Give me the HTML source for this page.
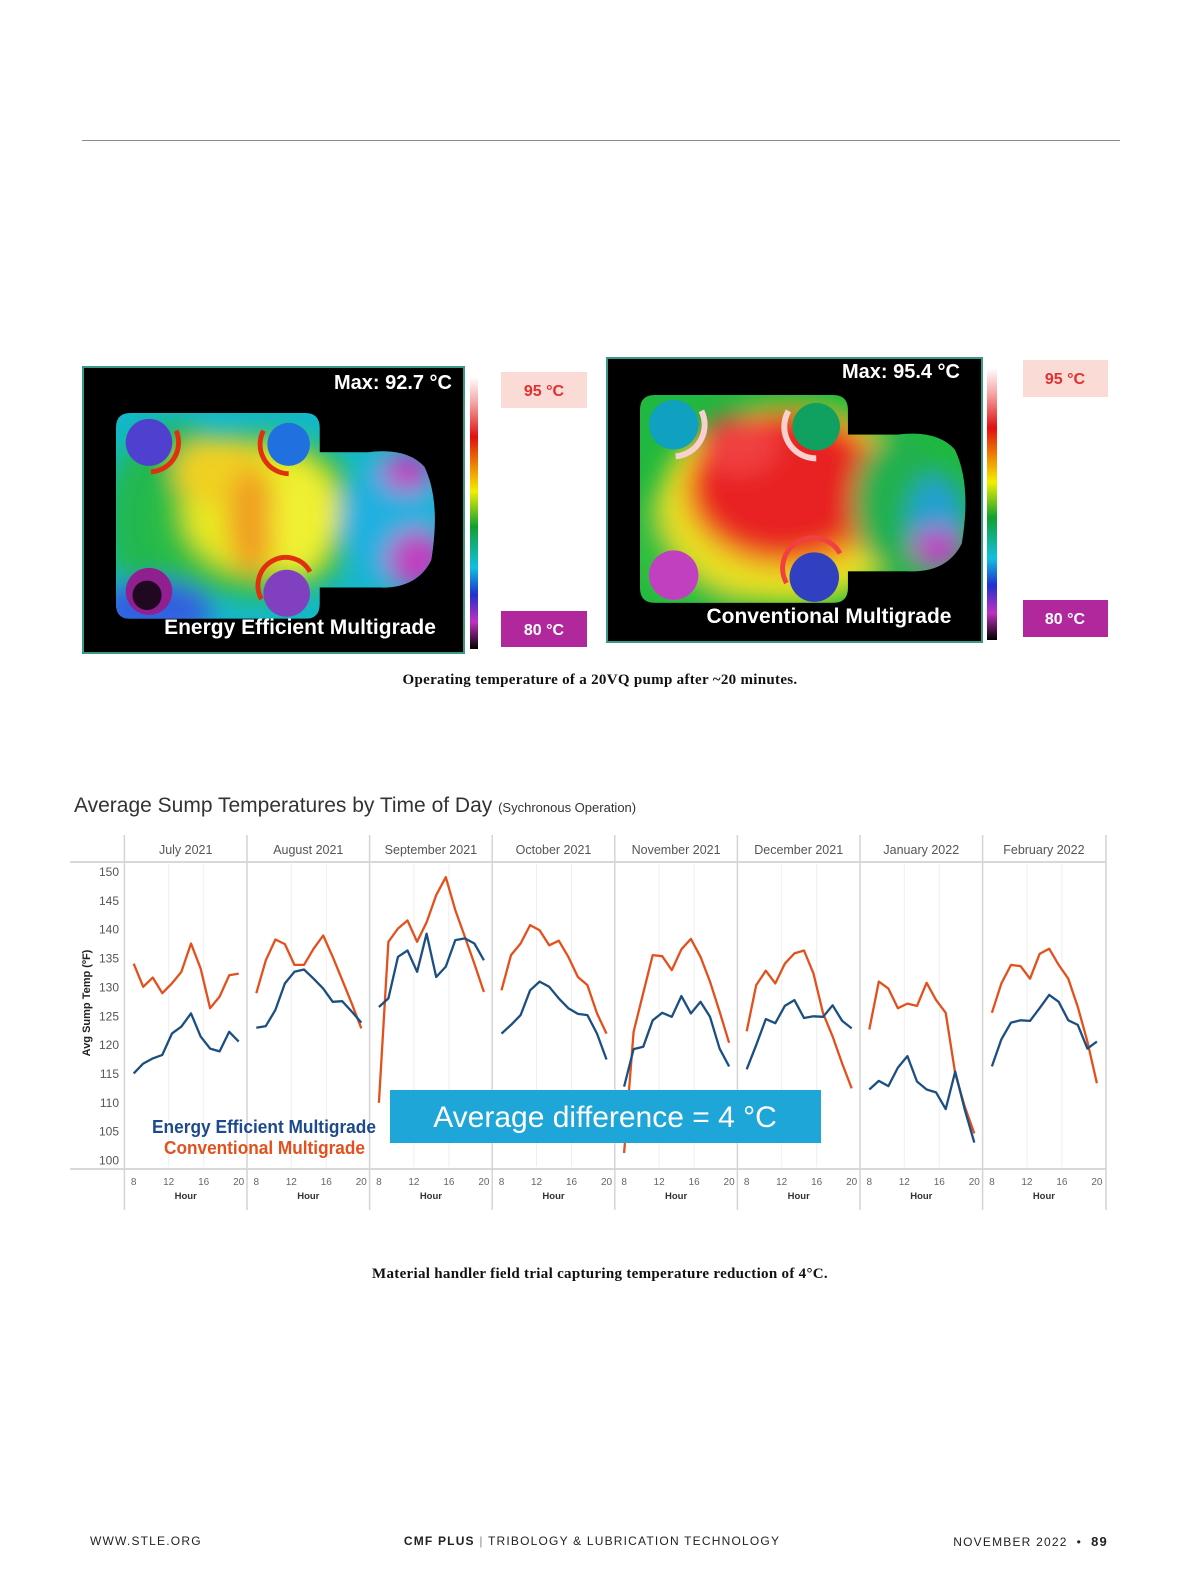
<!DOCTYPE html>
<html><head><meta charset="utf-8">
<style>
body{margin:0;background:#fff;}
#page{position:relative;width:1200px;height:1588px;overflow:hidden;background:#fff;font-family:"Liberation Sans",sans-serif;}
.abs{position:absolute;}
.cap{position:absolute;left:0;width:1200px;text-align:center;font-family:"Liberation Serif",serif;font-weight:bold;font-size:15px;color:#111;letter-spacing:0.3px;}
.foot{position:absolute;top:1534px;font-size:12px;letter-spacing:1.2px;color:#222;}
</style></head>
<body>
<div id="page">
<div class="abs" style="left:82px;top:140px;width:1038px;height:1px;background:#8a8a8a"></div>

<svg class="abs" style="left:0;top:0" width="1200" height="700">
<defs>
<filter id="bl" x="-30%" y="-30%" width="160%" height="160%"><feGaussianBlur stdDeviation="12"/></filter>
<clipPath id="pumpclip"><path d="M15,0 H195 Q210,0 210,15 V40 H260 Q300,35 318,55 Q335,90 325,150 Q310,180 270,178 H210 V195 Q210,210 195,210 H15 Q0,210 0,195 V15 Q0,0 15,0Z"/></clipPath>
<linearGradient id="cbar" x1="0" y1="0" x2="0" y2="1">
<stop offset="0" stop-color="#fff"/><stop offset="0.1" stop-color="#f4a0a0"/><stop offset="0.22" stop-color="#e01010"/><stop offset="0.35" stop-color="#f0a000"/><stop offset="0.42" stop-color="#f0f000"/><stop offset="0.55" stop-color="#10a030"/><stop offset="0.7" stop-color="#10c0e0"/><stop offset="0.8" stop-color="#2030d0"/><stop offset="0.9" stop-color="#c030c0"/><stop offset="1" stop-color="#000"/></linearGradient>
</defs>
<g>
<rect x="83" y="367" width="381" height="286" fill="#000" stroke="#3a9a8a" stroke-width="2"/>
<g transform="translate(116,413) scale(0.97,0.98)" clip-path="url(#pumpclip)">
<rect x="0" y="0" width="340" height="220" fill="#14b8c8"/>
<g filter="url(#bl)">
<ellipse cx="60" cy="110" rx="70" ry="100" fill="#20b850"/>
<ellipse cx="150" cy="105" rx="110" ry="85" fill="#30c040"/>
<ellipse cx="150" cy="100" rx="80" ry="65" fill="#e8e820"/>
<ellipse cx="105" cy="60" rx="45" ry="35" fill="#f0d020"/>
<ellipse cx="140" cy="110" rx="25" ry="55" fill="#f0a020"/>
<ellipse cx="190" cy="110" rx="30" ry="55" fill="#f0f030"/>
<ellipse cx="280" cy="110" rx="50" ry="65" fill="#20b0e0"/>
<ellipse cx="310" cy="150" rx="30" ry="30" fill="#c040c0"/>
<ellipse cx="300" cy="60" rx="25" ry="20" fill="#c040c0"/>
<ellipse cx="40" cy="200" rx="60" ry="30" fill="#3060e0"/>
</g>
<circle cx="34" cy="30" r="24" fill="#5040d0"/>
<circle cx="178" cy="32" r="22" fill="#2070e0"/>
<circle cx="34" cy="182" r="24" fill="#902090"/>
<circle cx="32" cy="186" r="15" fill="#200820"/>
<circle cx="176" cy="184" r="24" fill="#8040c0"/>
<path d="M62,18 A30,30 0 0 1 36,60" stroke="#e03010" stroke-width="5" fill="none"/>
<path d="M152,18 A30,30 0 0 0 178,62" stroke="#e03010" stroke-width="5" fill="none"/>
<path d="M150,190 A28,28 0 0 1 200,162" stroke="#e03010" stroke-width="5" fill="none"/>
</g>
<text x="452" y="389" text-anchor="end" font-size="20" font-weight="bold" fill="#fff">Max: 92.7 °C</text>
<text x="300" y="634" text-anchor="middle" font-size="21" font-weight="bold" fill="#fff">Energy Efficient Multigrade</text>
<rect x="470" y="377" width="8" height="272" fill="url(#cbar)"/>
<rect x="501" y="372" width="86" height="36" fill="#fadbd6"/>
<text x="544" y="396" text-anchor="middle" font-size="16" font-weight="bold" fill="#e03030">95 °C</text>
<rect x="501" y="611" width="86" height="36" fill="#b0289c"/>
<text x="544" y="635" text-anchor="middle" font-size="16" font-weight="bold" fill="#fff">80 °C</text>
</g>
<g>
<rect x="607" y="358" width="375" height="284" fill="#000" stroke="#3a9a8a" stroke-width="2"/>
<g transform="translate(640,395) scale(0.99,0.99)" clip-path="url(#pumpclip)">
<rect x="0" y="0" width="340" height="220" fill="#20b840"/>
<g filter="url(#bl)">
<ellipse cx="70" cy="150" rx="80" ry="70" fill="#30c040"/>
<ellipse cx="150" cy="110" rx="130" ry="100" fill="#e8e020"/>
<ellipse cx="150" cy="95" rx="105" ry="80" fill="#f08020"/>
<ellipse cx="145" cy="90" rx="90" ry="70" fill="#e82020"/>
<ellipse cx="100" cy="50" rx="40" ry="30" fill="#f04040"/>
<ellipse cx="260" cy="110" rx="45" ry="70" fill="#20b050"/>
<ellipse cx="300" cy="130" rx="30" ry="50" fill="#20a0d0"/>
<ellipse cx="300" cy="155" rx="25" ry="20" fill="#c040c0"/>
</g>
<circle cx="34" cy="30" r="25" fill="#10a0c0"/>
<circle cx="178" cy="32" r="24" fill="#10a060"/>
<circle cx="34" cy="182" r="25" fill="#c040c0"/>
<circle cx="176" cy="184" r="25" fill="#3040c0"/>
<path d="M62,16 A32,32 0 0 1 36,62" stroke="#f8d0d0" stroke-width="6" fill="none"/>
<path d="M150,16 A32,32 0 0 0 178,64" stroke="#f8d0d0" stroke-width="6" fill="none"/>
<path d="M148,190 A30,30 0 0 1 202,160" stroke="#f04040" stroke-width="5" fill="none"/>
</g>
<text x="960" y="378" text-anchor="end" font-size="20" font-weight="bold" fill="#fff">Max: 95.4 °C</text>
<text x="829" y="623" text-anchor="middle" font-size="21" font-weight="bold" fill="#fff">Conventional Multigrade</text>
<rect x="987" y="368" width="10" height="272" fill="url(#cbar)"/>
<rect x="1023" y="360" width="85" height="37" fill="#fadbd6"/>
<text x="1065" y="384" text-anchor="middle" font-size="16" font-weight="bold" fill="#e03030">95 °C</text>
<rect x="1023" y="600" width="85" height="37" fill="#b0289c"/>
<text x="1065" y="624" text-anchor="middle" font-size="16" font-weight="bold" fill="#fff">80 °C</text>
</g>
</svg>
<div class="cap" style="top:672px">Operating temperature of a 20VQ pump after ~20 minutes.</div>

<div class="abs" style="left:74px;top:794px;font-size:21px;color:#333;white-space:nowrap">Average Sump Temperatures by Time of Day <span style="font-size:13px">(Sychronous Operation)</span></div>

<svg id="chart" class="abs" style="left:0;top:0" width="1200" height="1588"></svg>

<div class="cap" style="top:1266px">Material handler field trial capturing temperature reduction of 4°C.</div>

<div class="foot" style="left:90px">WWW.STLE.ORG</div>
<div class="foot" style="left:0;width:1200px;text-align:center;margin-left:-8px"><b>CMF PLUS</b> <span style="color:#888">|</span> TRIBOLOGY &amp; LUBRICATION TECHNOLOGY</div>
<div class="foot" style="right:92px">NOVEMBER 2022 &nbsp;•&nbsp; <b style="font-size:13px">89</b></div>
</div>

<script>
const months = ["July 2021","August 2021","September 2021","October 2021","November 2021","December 2021","January 2022","February 2022"];
const hours = [8,9.09,10.18,11.27,12.36,13.45,14.55,15.64,16.73,17.82,18.91,20];
const yTicks = [100,105,110,115,120,125,130,135,140,145,150];
const xTicks = [8,12,16,20];
const efficient = [
 [115.1,116.8,117.7,118.3,122,123.2,125.5,121.5,119.4,118.9,122.3,120.6],
 [123,123.3,126.1,130.7,132.7,133.1,131.5,129.8,127.5,127.6,125.8,123.9],
 [126.6,128.1,135.3,136.4,132.7,139.3,131.8,133.6,138.2,138.5,137.6,134.7],
 [122,123.5,125.2,129.5,131,130.1,128.1,126.4,125.4,125.2,122,117.5],
 [112.8,119.3,119.7,124.3,125.6,124.9,128.5,125.5,127.5,124.9,119.4,116.3],
 [115.8,120,124.5,123.8,126.8,127.8,124.7,125,124.9,126.9,124.2,122.9],
 [112.3,113.8,112.9,116.1,118.1,113.7,112.3,111.8,108.9,115.4,108.8,103.1],
 [116.3,121,123.9,124.3,124.2,126.4,128.7,127.5,124.3,123.5,119.4,120.6]
];
const conventional = [
 [134.1,130.1,131.7,129,130.7,132.7,137.6,133.3,126.4,128.4,132.1,132.4],
 [129,134.7,138.3,137.5,133.9,133.9,136.7,139,135.3,131.3,127.2,122.9],
 [110,137.9,140.2,141.6,137.9,141.3,146,149.1,143.4,138.8,134.1,129.2],
 [129.5,135.6,137.6,140.8,139.9,137.3,138.1,135.3,131.8,130.4,125.5,122],
 [101.3,122.3,129,135.6,135.4,133,136.6,138.4,135.3,131,125.8,120.4],
 [122.4,130.4,132.9,130.7,134.1,135.9,136.4,132.4,125.5,121.5,116.8,112.5],
 [122.7,131,129.8,126.4,127.2,126.8,130.8,127.8,125.6,115.1,109.3,104.7],
 [125.6,130.7,133.9,133.7,131.5,135.8,136.7,133.9,131.5,126.6,120.6,113.4]
];
const NS="http://www.w3.org/2000/svg";
const svg=document.getElementById('chart');
const PL=124.4, PW=122.6, Y0=872, YS=5.77;
function yS(v){return Y0+(150-v)*YS;}
function xS(i,h){return PL+i*PW+9.3+(h-8)*8.75;}
function mk(tag,attrs,parent){const e=document.createElementNS(NS,tag);for(const k in attrs)e.setAttribute(k,attrs[k]);(parent||svg).appendChild(e);return e;}
let e;
e=mk('line',{x1:70,x2:1106,y1:862,y2:862,stroke:'#ccc','stroke-width':1.5});


e=mk('line',{x1:70,x2:1106,y1:1169,y2:1169,stroke:'#ccc','stroke-width':1.5});


yTicks.forEach(t=>{
 const tx=mk('text',{x:119,y:yS(t)+4,'text-anchor':'end','font-size':12,fill:'#555'});
 tx.textContent=t;
 
 
});
const yt=mk('text',{x:0,y:0,transform:'translate(90,1003) rotate(-90)','text-anchor':'middle','font-size':11,'font-weight':'bold',fill:'#222'});
yt.textContent='Avg Sump Temp (ºF)';


months.forEach((m,i)=>{
 const x0=PL+i*PW;
 [12,16].forEach(h=>{const g=mk('line',{x1:xS(i,h),x2:xS(i,h),y1:864,y2:1167,stroke:'#eee','stroke-width':1});
  
  });
 const d=mk('line',{x1:x0,x2:x0,y1:835,y2:1210,stroke:'#d4d4d4','stroke-width':1.5});
 
 
 const t=mk('text',{x:x0+PW/2,y:854,'text-anchor':'middle','font-size':12.5,fill:'#555'});
 t.textContent=m;
 
 
 xTicks.forEach(h=>{const tt=mk('text',{x:xS(i,h),y:1185,'text-anchor':'middle','font-size':10,fill:'#666'});tt.textContent=h;
  
  });
 const hl=mk('text',{x:x0+PW/2,y:1199,'text-anchor':'middle','font-size':9.5,'font-weight':'bold',fill:'#333'});
 hl.textContent='Hour';
 
 
});
const ld=mk('line',{x1:1106,x2:1106,y1:835,y2:1210,stroke:'#d4d4d4','stroke-width':1.5});


function series(data,color,name){
 data.forEach((vals,i)=>{
  const pts=vals.map((v,j)=>xS(i,hours[j]).toFixed(1)+','+yS(v).toFixed(1)).join(' ');
  const p=mk('polyline',{points:pts,fill:'none',stroke:color,'stroke-width':2.3,'stroke-linejoin':'round'});
  
  
 });
}
series(conventional,'#e4501c','conventional');
series(efficient,'#1b4f82','efficient');
const l1=mk('text',{x:152,y:1133,'font-size':18,'font-weight':'bold',fill:'#1c4a8c',textLength:224,lengthAdjust:'spacingAndGlyphs'});
l1.textContent='Energy Efficient Multigrade';


const l2=mk('text',{x:164,y:1154,'font-size':18,'font-weight':'bold',fill:'#e4501c',textLength:201,lengthAdjust:'spacingAndGlyphs'});
l2.textContent='Conventional Multigrade';


const bx=mk('rect',{x:390,y:1090,width:431,height:53,fill:'#1ea6d8'});


const bt=mk('text',{x:605,y:1127,'text-anchor':'middle','font-size':30,fill:'#fff'});
bt.textContent='Average difference = 4 °C';


</script>
</body></html>
